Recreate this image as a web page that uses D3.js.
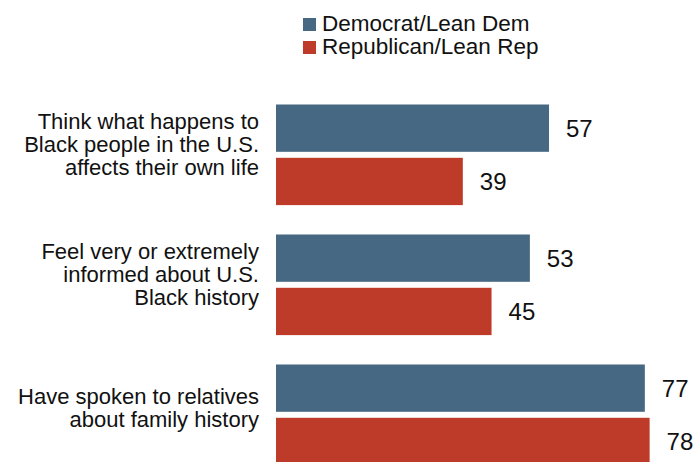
<!DOCTYPE html>
<html>
<head>
<meta charset="utf-8">
<script src="https://cdn.jsdelivr.net/npm/d3@7"></script>
<style>
  html, body { margin: 0; padding: 0; background: #fff; }
  svg { display: block; }
  text { font-family: "Liberation Sans", Arial, sans-serif; fill: #111; }
</style>
</head>
<body>
<svg id="chart" width="698" height="462"></svg>
<script>
const categories = [
  ["Think what happens to", "Black people in the U.S.", "affects their own life"],
  ["Feel very or extremely", "informed about U.S.", "Black history"],
  ["Have spoken to relatives", "about family history"]
];
const seriesNames = ["Democrat/Lean Dem", "Republican/Lean Rep"];
const demValues = [57, 53, 77];
const repValues = [39, 45, 78];
const seriesColors = ["#466882", "#BE3A29"];

const svg = d3.select("#chart");

const catIds = categories.map((c, i) => i);
const x = d3.scaleLinear().domain([0, 100]).range([276, 755]);
const y0 = d3.scaleBand().domain(catIds).range([104.5, 465.1]).paddingInner(0.226).paddingOuter(0);
const y1 = d3.scaleBand().domain(seriesNames).range([0, y0.bandwidth()]).paddingInner(0.1125).paddingOuter(0);
const color = d3.scaleOrdinal().domain(seriesNames).range(seriesColors);

const rows = catIds.map(i => ({
  id: i,
  lines: categories[i],
  vals: [
    { s: seriesNames[0], v: demValues[i] },
    { s: seriesNames[1], v: repValues[i] }
  ]
}));

// Legend
const legend = svg.append("g");
seriesNames.forEach((s, i) => {
  const baseline = 31 + i * 23;
  legend.append("rect")
    .attr("x", 303).attr("y", baseline - 13)
    .attr("width", 13).attr("height", 13)
    .attr("fill", color(s));
  legend.append("text")
    .attr("x", 322).attr("y", baseline)
    .attr("font-size", 22.5)
    .text(s);
});

// Groups
const g = svg.selectAll("g.grp").data(rows).join("g")
  .attr("class", "grp")
  .attr("transform", d => `translate(0,${y0(d.id)})`);

g.selectAll("rect").data(d => d.vals).join("rect")
  .attr("x", x(0))
  .attr("y", d => y1(d.s))
  .attr("width", d => x(d.v) - x(0))
  .attr("height", y1.bandwidth())
  .attr("fill", d => color(d.s));

g.selectAll("text.val").data(d => d.vals).join("text")
  .attr("class", "val")
  .attr("x", d => x(d.v) + 17)
  .attr("y", d => y1(d.s) + y1.bandwidth() / 2 + 8.7)
  .attr("font-size", 24)
  .text(d => d.v);

// Category labels
const lh = 23;
g.each(function(d) {
  const n = d.lines.length;
  const center = y0.bandwidth() / 2;
  const off = n === 3 ? -3 : 1;
  const first = center - (n - 1) * lh / 2 + off;
  const t = d3.select(this).append("text")
    .attr("text-anchor", "end")
    .attr("font-size", 22);
  d.lines.forEach((line, k) => {
    t.append("tspan").attr("x", 259).attr("y", first + k * lh).text(line);
  });
});
</script>
</body>
</html>
